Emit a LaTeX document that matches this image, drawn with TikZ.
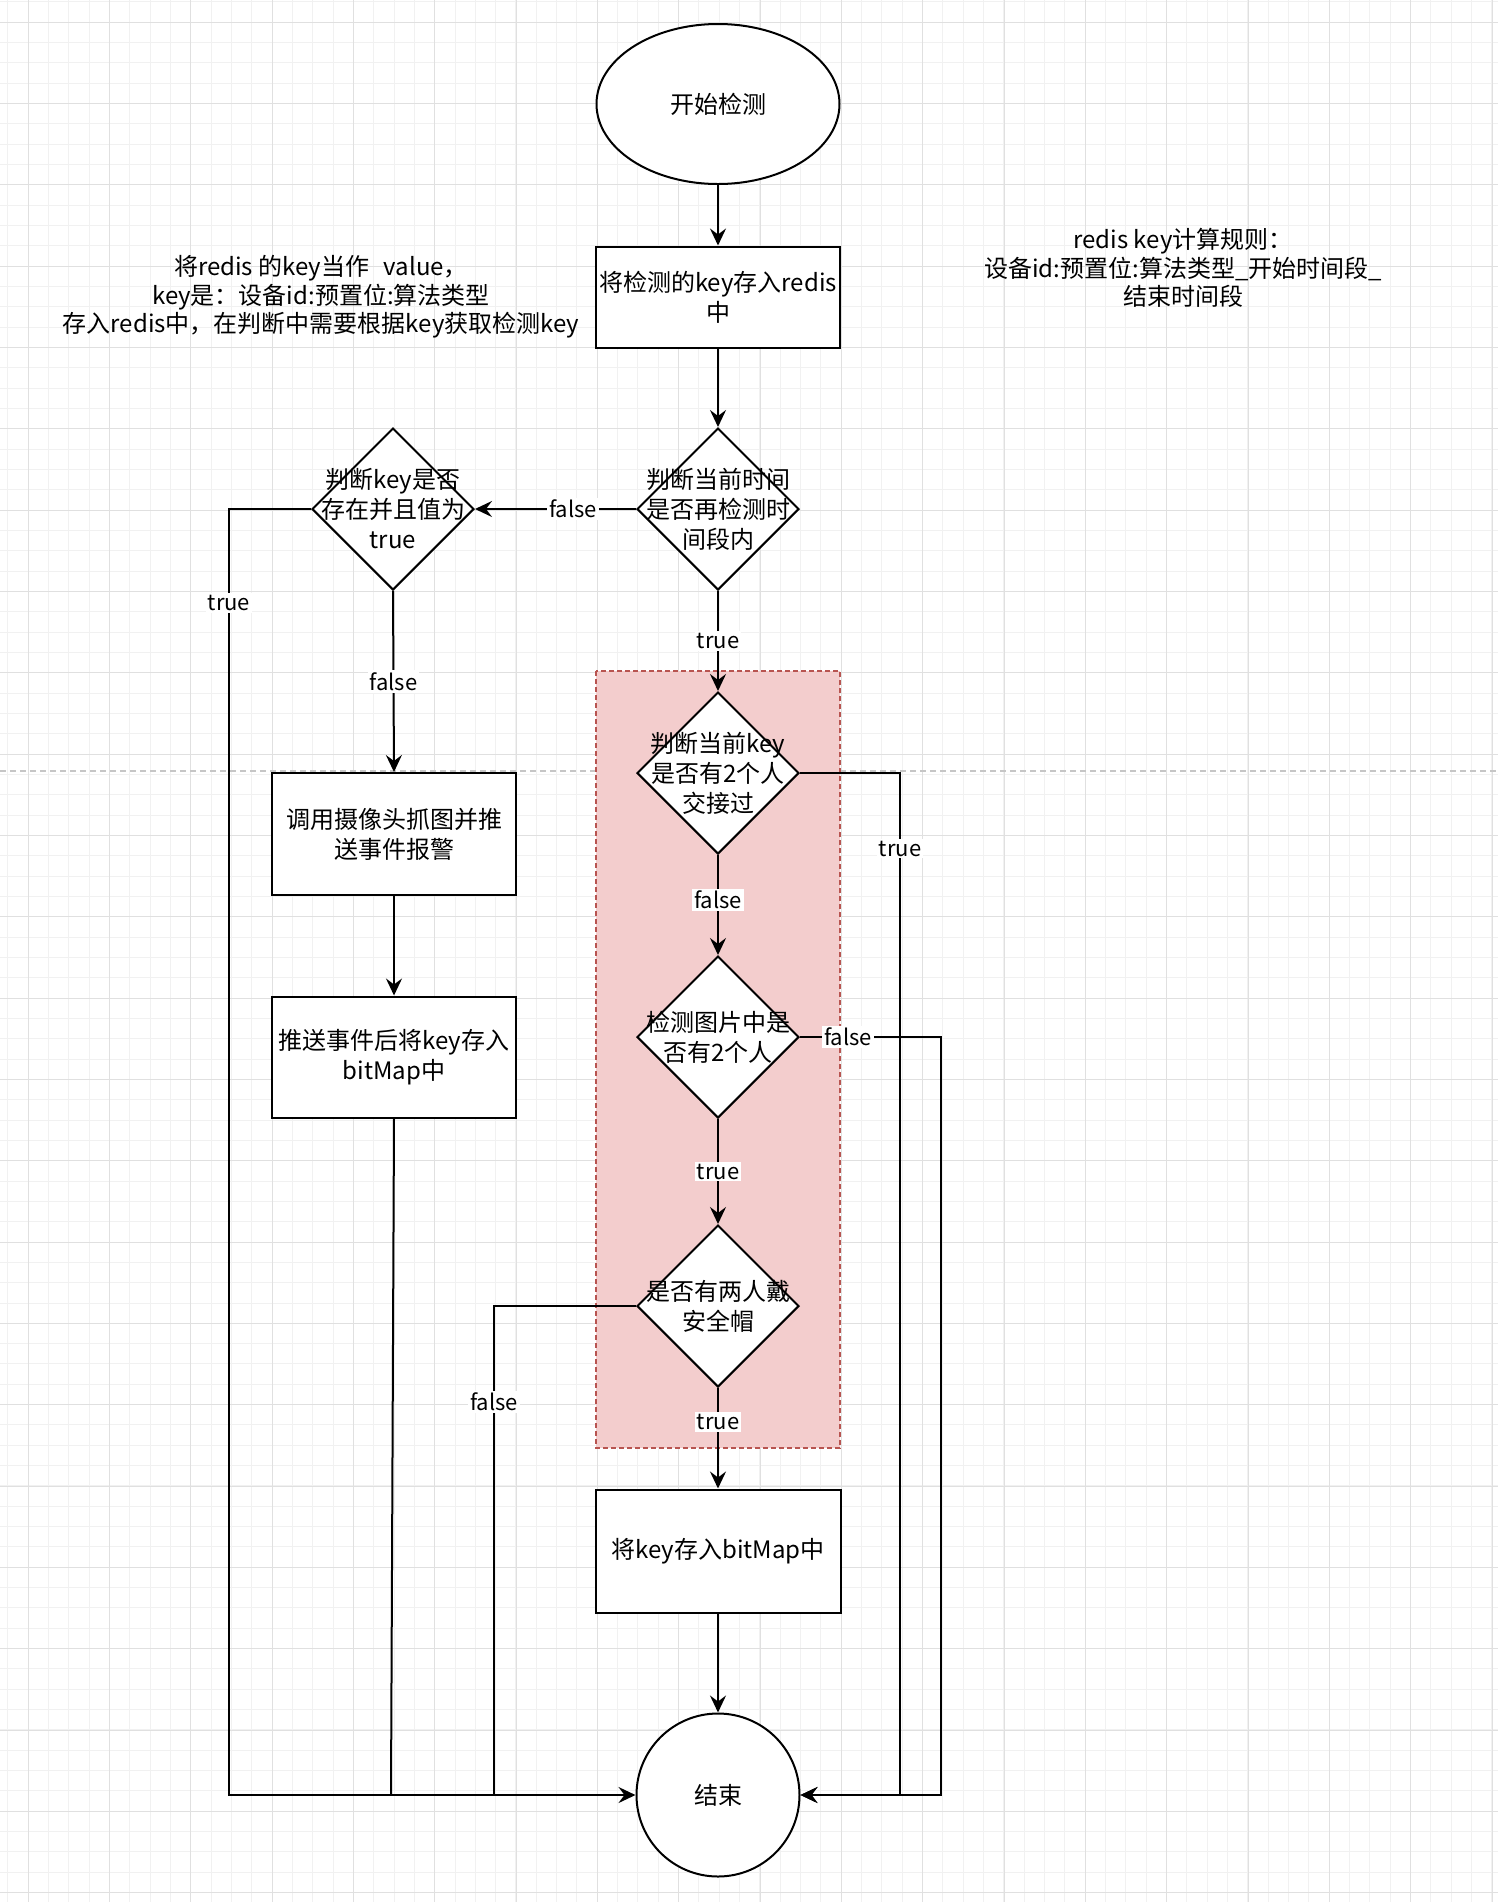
\documentclass[tikz,border=0pt]{standalone}
\usepackage{fontspec}
\setmainfont{Noto Sans CJK SC}
\usetikzlibrary{shapes.geometric,arrows.meta}
\definecolor{gridminor}{HTML}{F1F1F1}
\definecolor{gridmajor}{HTML}{E0E0E0}
\definecolor{pinkfill}{HTML}{F3CDCD}
\definecolor{pinkline}{HTML}{B85450}
\begin{document}
\begin{tikzpicture}[x=0.5pt,y=-0.5pt,
  font=\fontsize{12}{15}\selectfont,
  gminor/.style={gridminor, line width=0.5pt},
  gmajor/.style={gridmajor, line width=0.5pt},
  ln/.style={line width=1pt},
  arr/.style={line width=1pt, -{Stealth[length=8.5pt,width=8pt,inset=3pt]}},
  stepbox/.style={draw, line width=1pt, fill=white, align=center, inner sep=0pt},
  dia/.style={draw, diamond, line width=1pt, fill=white, minimum width=81pt, minimum height=81pt, inner sep=0pt},
  dtext/.style={align=center, inner sep=0pt},
  lbl/.style={fill=white, inner sep=1pt, font=\fontsize{11}{13}\selectfont},
  anno/.style={align=center, inner sep=0pt, font=\fontsize{12}{14.3}\selectfont}
]
\useasboundingbox (0,0) rectangle (1498,1902);
\fill[white] (0,0) rectangle (1498,1902);
% grid
\foreach \i in {0,...,73} \draw[gminor] ({7.67+20.333*\i},0) -- ++(0,1902);
\foreach \i in {0,...,93} \draw[gminor] (0,{1.67+20.333*\i}) -- ++(1498,0);
\foreach \i in {0,...,18} \draw[gmajor] ({28+81.333*\i},0) -- ++(0,1902);
\foreach \i in {0,...,23} \draw[gmajor] (0,{22+81.333*\i}) -- ++(1498,0);
\draw[gray!45, line width=0.6pt, dash pattern=on 3pt off 2pt] (0,771) -- (1498,771);

% pink group
\draw[pinkline, fill=pinkfill, line width=0.8pt, dash pattern=on 2.5pt off 1.5pt] (596,671) rectangle (840,1448);

% annotations
\node[anno] (note1) at (321,297) {将redis 的key当作\hspace{0.6em}value，\\key是：设备id:预置位:算法类型\\存入redis中，在判断中需要根据key获取检测key};
\node[anno] (note2) at (1183,268) {redis key计算规则：\\设备id:预置位:算法类型\_开始时间段\_\\结束时间段};

% nodes
\node[draw, ellipse, line width=1pt, fill=white, minimum width=121.5pt, minimum height=80pt, inner sep=0pt] (start) at (718,104) {开始检测};
\node[stepbox, minimum width=122pt, minimum height=50.5pt] (box1) at (718,297) {将检测的key存入redis\\中};
\node[dia, label={[dtext]center:{判断当前时间\\是否再检测时\\间段内}}] (d1) at (718,509) {};
\node[dia, label={[dtext]center:{判断key是否\\存在并且值为\\true}}] (d2) at (393,509) {};
\node[stepbox, minimum width=122pt, minimum height=61pt] (box2) at (394,834) {调用摄像头抓图并推\\送事件报警};
\node[stepbox, minimum width=122pt, minimum height=60.5pt] (box3) at (394,1057) {推送事件后将key存入\\bitMap中};
\node[dia, label={[dtext]center:{判断当前key\\是否有2个人\\交接过}}] (d3) at (718,773) {};
\node[dia, label={[dtext]center:{检测图片中是\\否有2个人}}] (d4) at (718,1037) {};
\node[dia, label={[dtext]center:{是否有两人戴\\安全帽}}] (d5) at (718,1306) {};
\node[stepbox, minimum width=122.5pt, minimum height=61.5pt] (box4) at (718,1551) {将key存入bitMap中};
\node[draw, circle, line width=1pt, fill=white, minimum size=81.5pt, inner sep=0pt] (end) at (718,1795) {结束};

% helper coordinates
\coordinate (l1) at (229,509);
\coordinate (l2) at (229,1795);
\coordinate (m2) at (391,1795);
\coordinate (f1) at (494,1306);
\coordinate (f2) at (494,1795);
\coordinate (r1) at (900,773);
\coordinate (r2) at (900,1795);
\coordinate (s1) at (941,1037);
\coordinate (s2) at (941,1795);

% connectors
\draw[arr] (start) -- (box1);
\draw[arr] (box1) -- (d1);
\draw[arr] (d1.west) -- node[lbl, pos=0.39] {false} (d2.east);
\draw[arr] (d2.west) -- (l1) -- node[lbl, pos=0.073] {true} (l2) -- (end.west);
\draw[arr] (d2.south) -- node[lbl] {false} (box2.north);
\draw[arr] (box2) -- (box3);
\draw[ln] (box3.south) -- (m2);
\draw[arr] (d1.south) -- node[lbl] {true} (d3.north);
\draw[arr] (d3.east) -- (r1) -- node[lbl, pos=0.074] {true} (r2) -- (end.east);
\draw[arr] (d3.south) -- node[lbl, pos=0.45] {false} (d4.north);
\draw[arr] (d4.east) -- node[lbl, pos=0.34] {false} (s1) -- (s2) -- (end.east);
\draw[arr] (d4.south) -- node[lbl] {true} (d5.north);
\draw[ln] (d5.west) -- (f1) -- node[lbl, pos=0.196] {false} (f2);
\draw[arr] (d5.south) -- node[lbl, pos=0.34] {true} (box4.north);
\draw[arr] (box4) -- (end);
\end{tikzpicture}
\end{document}
